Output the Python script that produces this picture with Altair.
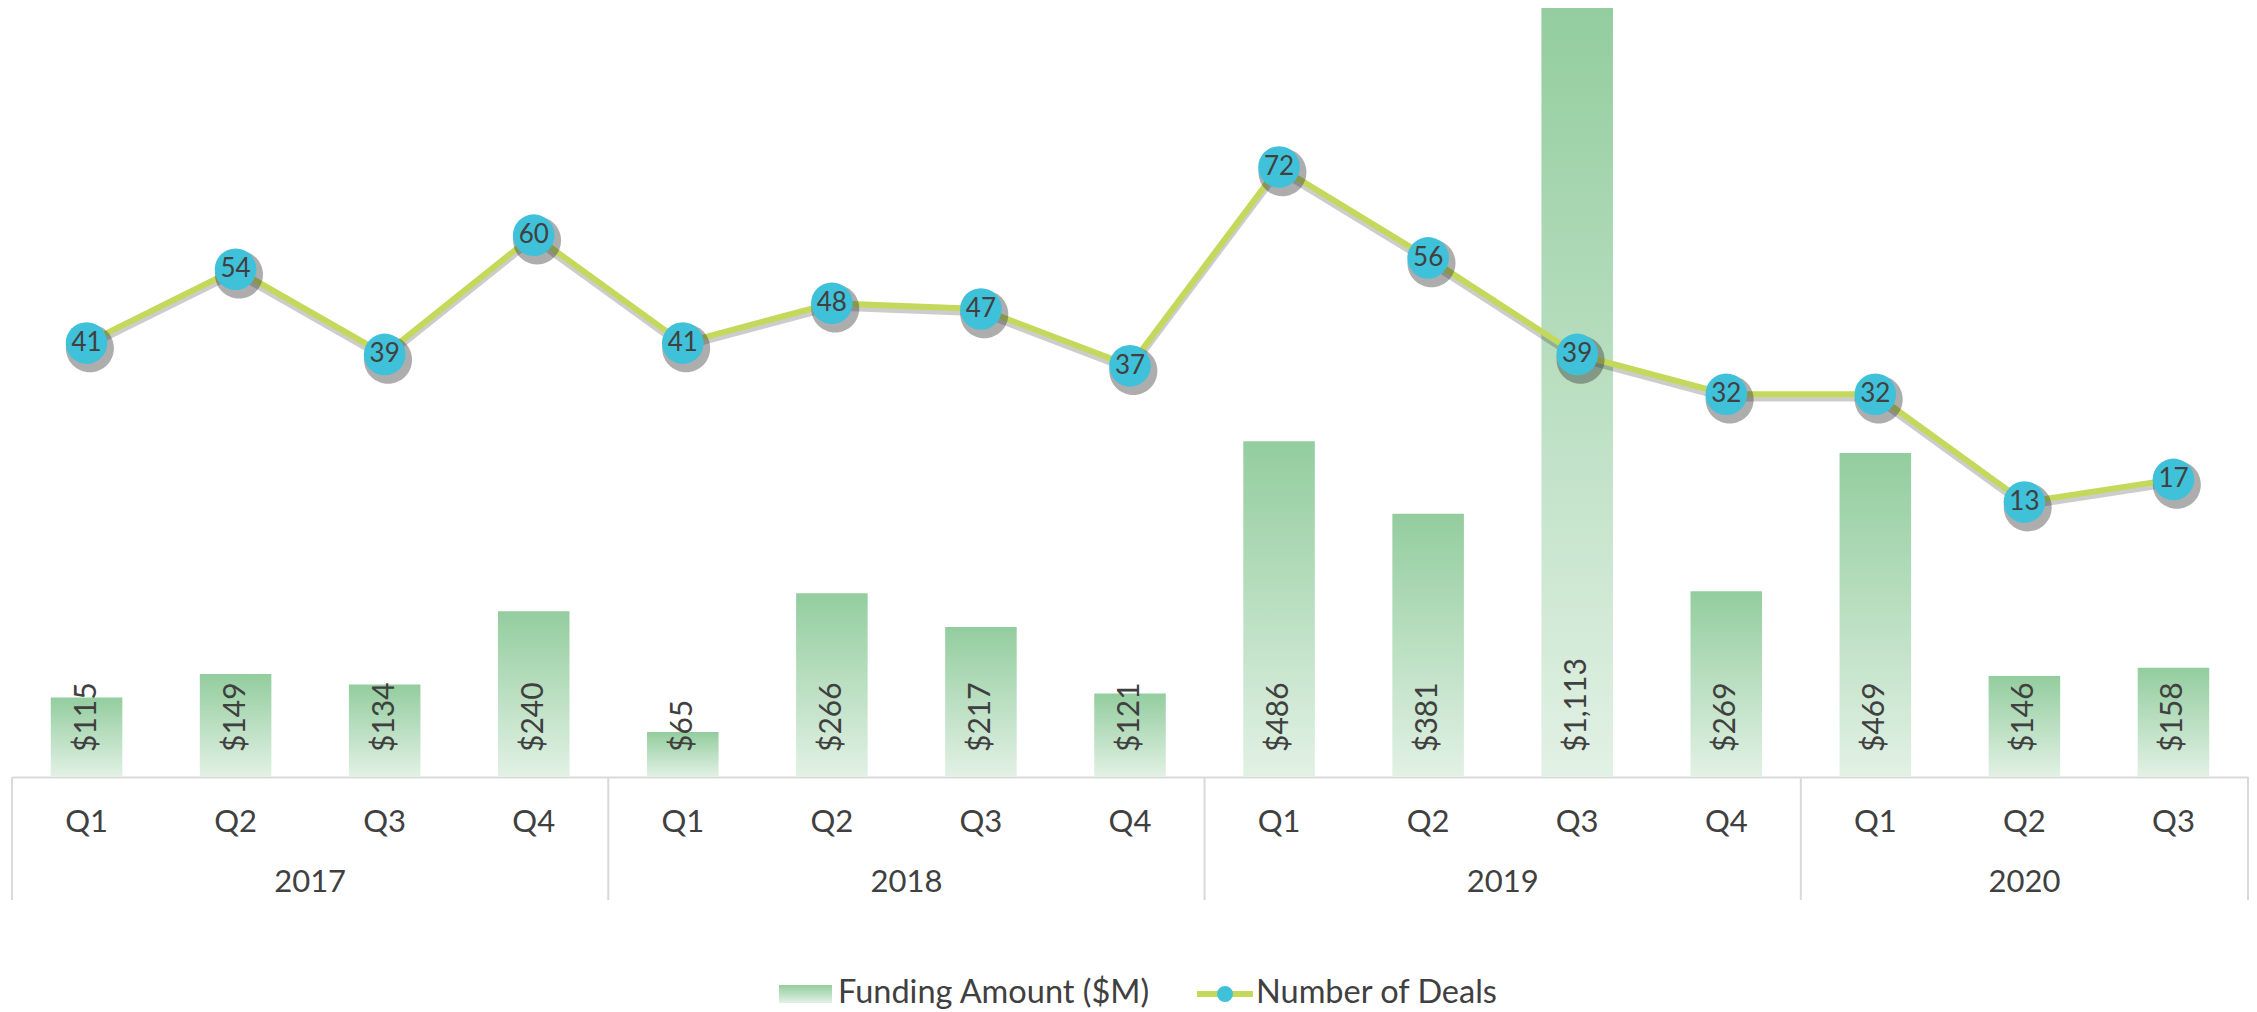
import altair as alt
import pandas as pd

years = ["2017"] * 4 + ["2018"] * 4 + ["2019"] * 4 + ["2020"] * 3
quarters = ["Q1", "Q2", "Q3", "Q4", "Q1", "Q2", "Q3", "Q4",
            "Q1", "Q2", "Q3", "Q4", "Q1", "Q2", "Q3"]
funding = [115, 149, 134, 240, 65, 266, 217, 121, 486, 381, 1113, 269, 469, 146, 158]
deals = [41, 54, 39, 60, 41, 48, 47, 37, 72, 56, 39, 32, 32, 13, 17]
legend_labels = ["Funding Amount ($M)", "Number of Deals"]

keys = [f"{y} {q}" for y, q in zip(years, quarters)]
df = pd.DataFrame({"key": keys, "year": years, "quarter": quarters,
                   "funding": funding, "deals": deals})
df["funding_label"] = ["$" + format(v, ",") for v in funding]

year_order = list(dict.fromkeys(years))
rows = []
firsts = []
for y in year_order:
    ks = [k for k, yy in zip(keys, years) if yy == y]
    n = len(ks)
    firsts.append(ks[0])
    if n % 2 == 0:
        rows.append({"year": y, "anchor": ks[n // 2 - 1], "even": True})
    else:
        rows.append({"year": y, "anchor": ks[n // 2], "even": False})
year_df = pd.DataFrame(rows)
sep_start = pd.DataFrame({"key": firsts})
sep_end = pd.DataFrame({"key": [keys[-1]]})

W, H = 2236, 769
TXT = "#404040"
GREEN_LINE = "#C4D95C"
CYAN = "#40C1DA"

gradient = alt.LinearGradient(
    gradient="linear",
    stops=[alt.GradientStop(color="#93CD9E", offset=0),
           alt.GradientStop(color="#E2F1E5", offset=1)],
    x1=0, x2=0, y1=0, y2=1,
)

x_scale = alt.Scale(domain=keys, paddingInner=0, paddingOuter=0)
x_axis = alt.Axis(title=None, labelExpr="split(datum.value, ' ')[1]", ticks=False,
                  tickSize=0, labelPadding=45, labelFont="Lato", labelFontSize=31,
                  labelColor=TXT, labelBaseline="middle", labelAngle=0,
                  domainColor="#d9d9d9", domainWidth=2, grid=False)


def X(field, **kw):
    return alt.X(f"{field}:N", scale=x_scale, axis=x_axis, **kw)


fund_scale = alt.Scale(domain=[0, 1113], nice=False, zero=True)
deal_scale = alt.Scale(domain=[-35.4, 100], nice=False, zero=False)

bars = alt.Chart(df).mark_bar(width=alt.RelativeBandSize(0.48), color=gradient).encode(
    x=X("key"), y=alt.Y("funding:Q", scale=fund_scale, axis=None))

bar_labels = alt.Chart(df).transform_calculate(base="0").mark_text(
    angle=270, align="left", baseline="middle", dx=25, font="Lato", fontSize=30, color=TXT
).encode(x=X("key"), y=alt.Y("base:Q", scale=fund_scale, axis=None), text="funding_label:N")

line_shadow = alt.Chart(df).transform_calculate(sh="datum.deals - 0.75").mark_line(
    color="#000000", opacity=0.2, strokeWidth=6
).encode(x=X("key"), y=alt.Y("sh:Q", scale=deal_scale, axis=None))

line = alt.Chart(df).mark_line(color=GREEN_LINE, strokeWidth=6).encode(
    x=X("key"), y=alt.Y("deals:Q", scale=deal_scale, axis=None))

shadow_path = "M1.14,0.22A1,1,0,1,1,-0.86,0.22A1,1,0,1,1,1.14,0.22Z"
pt_shadow = alt.Chart(df).mark_point(
    shape=shadow_path, filled=True, size=2304, color="#333333", opacity=0.4, strokeWidth=0
).encode(x=X("key"), y=alt.Y("deals:Q", scale=deal_scale, axis=None))

points = alt.Chart(df).mark_circle(size=1735, color=CYAN, opacity=1).encode(
    x=X("key"), y=alt.Y("deals:Q", scale=deal_scale, axis=None))

pt_labels = alt.Chart(df).mark_text(
    font="Lato", fontSize=26, color=TXT, baseline="middle", align="center"
).encode(x=X("key"), y=alt.Y("deals:Q", scale=deal_scale, axis=None), text="deals:Q")

year_even = alt.Chart(year_df[year_df["even"]]).mark_text(
    align="center", baseline="alphabetic", font="Lato", fontSize=31, color=TXT
).encode(x=X("anchor", bandPosition=1), y=alt.value(884), text="year:N")

year_odd = alt.Chart(year_df[~year_df["even"]]).mark_text(
    align="center", baseline="alphabetic", font="Lato", fontSize=31, color=TXT
).encode(x=X("anchor", bandPosition=0.5), y=alt.value(884), text="year:N")

sep1 = alt.Chart(sep_start).mark_rule(color="#d9d9d9", strokeWidth=2).encode(
    x=X("key", bandPosition=0), y=alt.value(H), y2=alt.value(892))
sep2 = alt.Chart(sep_end).mark_rule(color="#d9d9d9", strokeWidth=2).encode(
    x=X("key", bandPosition=1), y=alt.value(H), y2=alt.value(892))

leg1 = pd.DataFrame({"label": [legend_labels[0]]})
leg2 = pd.DataFrame({"label": [legend_labels[1]]})

swatch = alt.Chart(leg1).mark_rect(color=gradient).encode(
    x=alt.value(767), x2=alt.value(820), y=alt.value(977), y2=alt.value(995))
ltext1 = alt.Chart(leg1).mark_text(
    align="left", baseline="alphabetic", font="Lato", fontSize=32.5, color=TXT
).encode(x=alt.value(826), y=alt.value(995), text="label:N")
lrule = alt.Chart(leg2).mark_rule(color=GREEN_LINE, strokeWidth=6).encode(
    x=alt.value(1185), x2=alt.value(1241), y=alt.value(986))
lcirc = alt.Chart(leg2).mark_circle(size=254, color=CYAN, opacity=1).encode(
    x=alt.value(1213), y=alt.value(986))
ltext2 = alt.Chart(leg2).mark_text(
    align="left", baseline="alphabetic", font="Lato", fontSize=32.5, color=TXT
).encode(x=alt.value(1244), y=alt.value(995), text="label:N")

chart = alt.layer(
    bars, bar_labels, line_shadow, line, pt_shadow, points, pt_labels,
    year_even, year_odd, sep1, sep2, swatch, ltext1, lrule, lcirc, ltext2
).resolve_scale(y="independent").properties(
    width=W, height=H,
    padding={"left": 3, "top": 0, "right": 0, "bottom": 0},
    background="white",
).configure(font="Lato").configure_view(stroke=None)

chart.save("out.html", embed_options={"renderer": "svg", "actions": False})
